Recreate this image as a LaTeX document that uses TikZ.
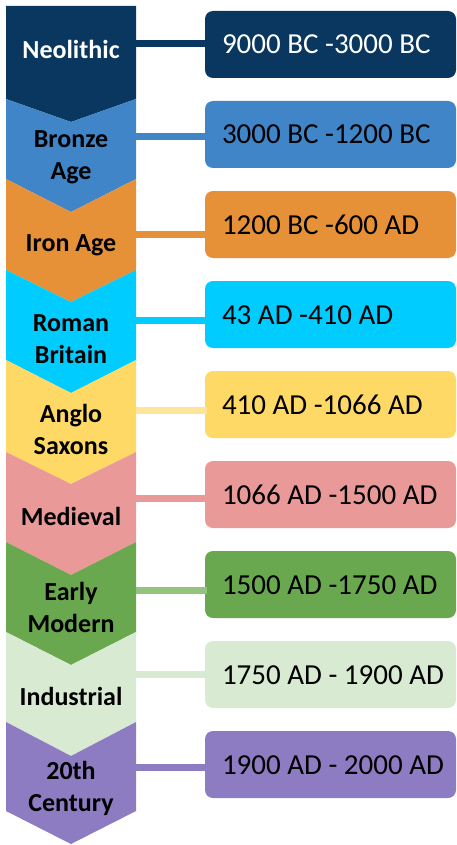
\documentclass[tikz,border=0pt]{standalone}
\usepackage{fontspec}
\setmainfont{Carlito}
\definecolor{cNeo}{HTML}{0A375F}
\definecolor{cBro}{HTML}{3F85C8}
\definecolor{cIro}{HTML}{E69138}
\definecolor{cRom}{HTML}{00CCFF}
\definecolor{cAng}{HTML}{FFD966}
\definecolor{cAngL}{HTML}{FFE599}
\definecolor{cMed}{HTML}{EA9999}
\definecolor{cEar}{HTML}{6AA84F}
\definecolor{cEarL}{HTML}{93C47D}
\definecolor{cInd}{HTML}{D9EAD3}
\definecolor{cTwe}{HTML}{8E7CC3}
\tikzset{
  era/.style={font=\fontsize{26}{32}\selectfont\bfseries, align=center, inner sep=0pt},
  datebox/.style={rounded corners=8pt, minimum width=251pt, minimum height=67pt, inner sep=0pt},
  datetext/.style={font=\fontsize{29}{35}\selectfont, anchor=base west, inner sep=0pt},
  conn/.style={line width=7pt}
}
\begin{document}
\begin{tikzpicture}[x=1pt,y=-1pt]
\useasboundingbox (0,0) rectangle (457,845);
\coordinate (edge) at (136,0);
% chevrons: fill, prev tip depth, top, bottom, tip depth
\fill[cNeo] (6,6) -- (136,6) -- (136,99) -- (71,122) -- (6,99) -- cycle;
\foreach \c/\T/\pd/\B/\d in {cBro/99/23/179/33, cIro/179/33/270/32, cRom/270/32/360/33, cAng/360/33/452/32, cMed/452/32/542/33, cEar/542/33/632/33, cInd/632/33/722/34, cTwe/722/34/811/33}{
  \fill[\c] (6,\T) -- (71,\T+\pd) -- (136,\T) -- (136,\B) -- (71,\B+\d) -- (6,\B) -- cycle;
}
% era labels
\node[era, text=white] (e1) at (71,49) {Neolithic};
\node[era] (e2) at (71,157) {Bronze\\Age};
\node[era] (e3) at (71,245) {Iron Age};
\node[era] (e4) at (71,339) {Roman\\Britain};
\node[era] (e5) at (71,429) {Anglo\\Saxons};
\node[era] (e6) at (71,516) {Medieval};
\node[era] (e7) at (71,607) {Early\\Modern};
\node[era] (e8) at (71,696) {Industrial};
\node[era] (e9) at (71,788) {20th\\Century};
% date boxes
\foreach \i/\c/\y in {1/cNeo/44.5, 2/cBro/134.5, 3/cIro/224.5, 4/cRom/314.5, 5/cAng/404.5, 6/cMed/494.5, 7/cEar/584.5, 8/cInd/674.5, 9/cTwe/764.5}{
  \node[datebox, fill=\c] (b\i) at (330.5,\y) {};
}
% connectors
\foreach \i/\c/\o in {1/cNeo/-0.8, 2/cBro/2.2, 3/cIro/10, 4/cRom/6, 5/cAngL/5.5, 6/cMed/3.5, 7/cEarL/6, 8/cInd/-0.5, 9/cTwe/3}{
  \draw[conn, \c] ([xshift=2pt,yshift=-\o pt]b\i.west) -- ([yshift=-\o pt]b\i.west -| edge);
}
% date labels
\node[datetext, text=white] (t1) at ([xshift=17pt,yshift=-9.5pt]b1.west) {9000 BC -3000 BC};
\node[datetext] (t2) at ([xshift=17pt,yshift=-9.5pt]b2.west) {3000 BC -1200 BC};
\node[datetext] (t3) at ([xshift=17pt,yshift=-9.5pt]b3.west) {1200 BC -600 AD};
\node[datetext] (t4) at ([xshift=17pt,yshift=-9.5pt]b4.west) {43 AD -410 AD};
\node[datetext] (t5) at ([xshift=17pt,yshift=-9.5pt]b5.west) {410 AD -1066 AD};
\node[datetext] (t6) at ([xshift=17pt,yshift=-9.5pt]b6.west) {1066 AD -1500 AD};
\node[datetext] (t7) at ([xshift=17pt,yshift=-9.5pt]b7.west) {1500 AD -1750 AD};
\node[datetext] (t8) at ([xshift=17pt,yshift=-9.5pt]b8.west) {1750 AD - 1900 AD};
\node[datetext] (t9) at ([xshift=17pt,yshift=-9.5pt]b9.west) {1900 AD - 2000 AD};
\end{tikzpicture}
\end{document}
